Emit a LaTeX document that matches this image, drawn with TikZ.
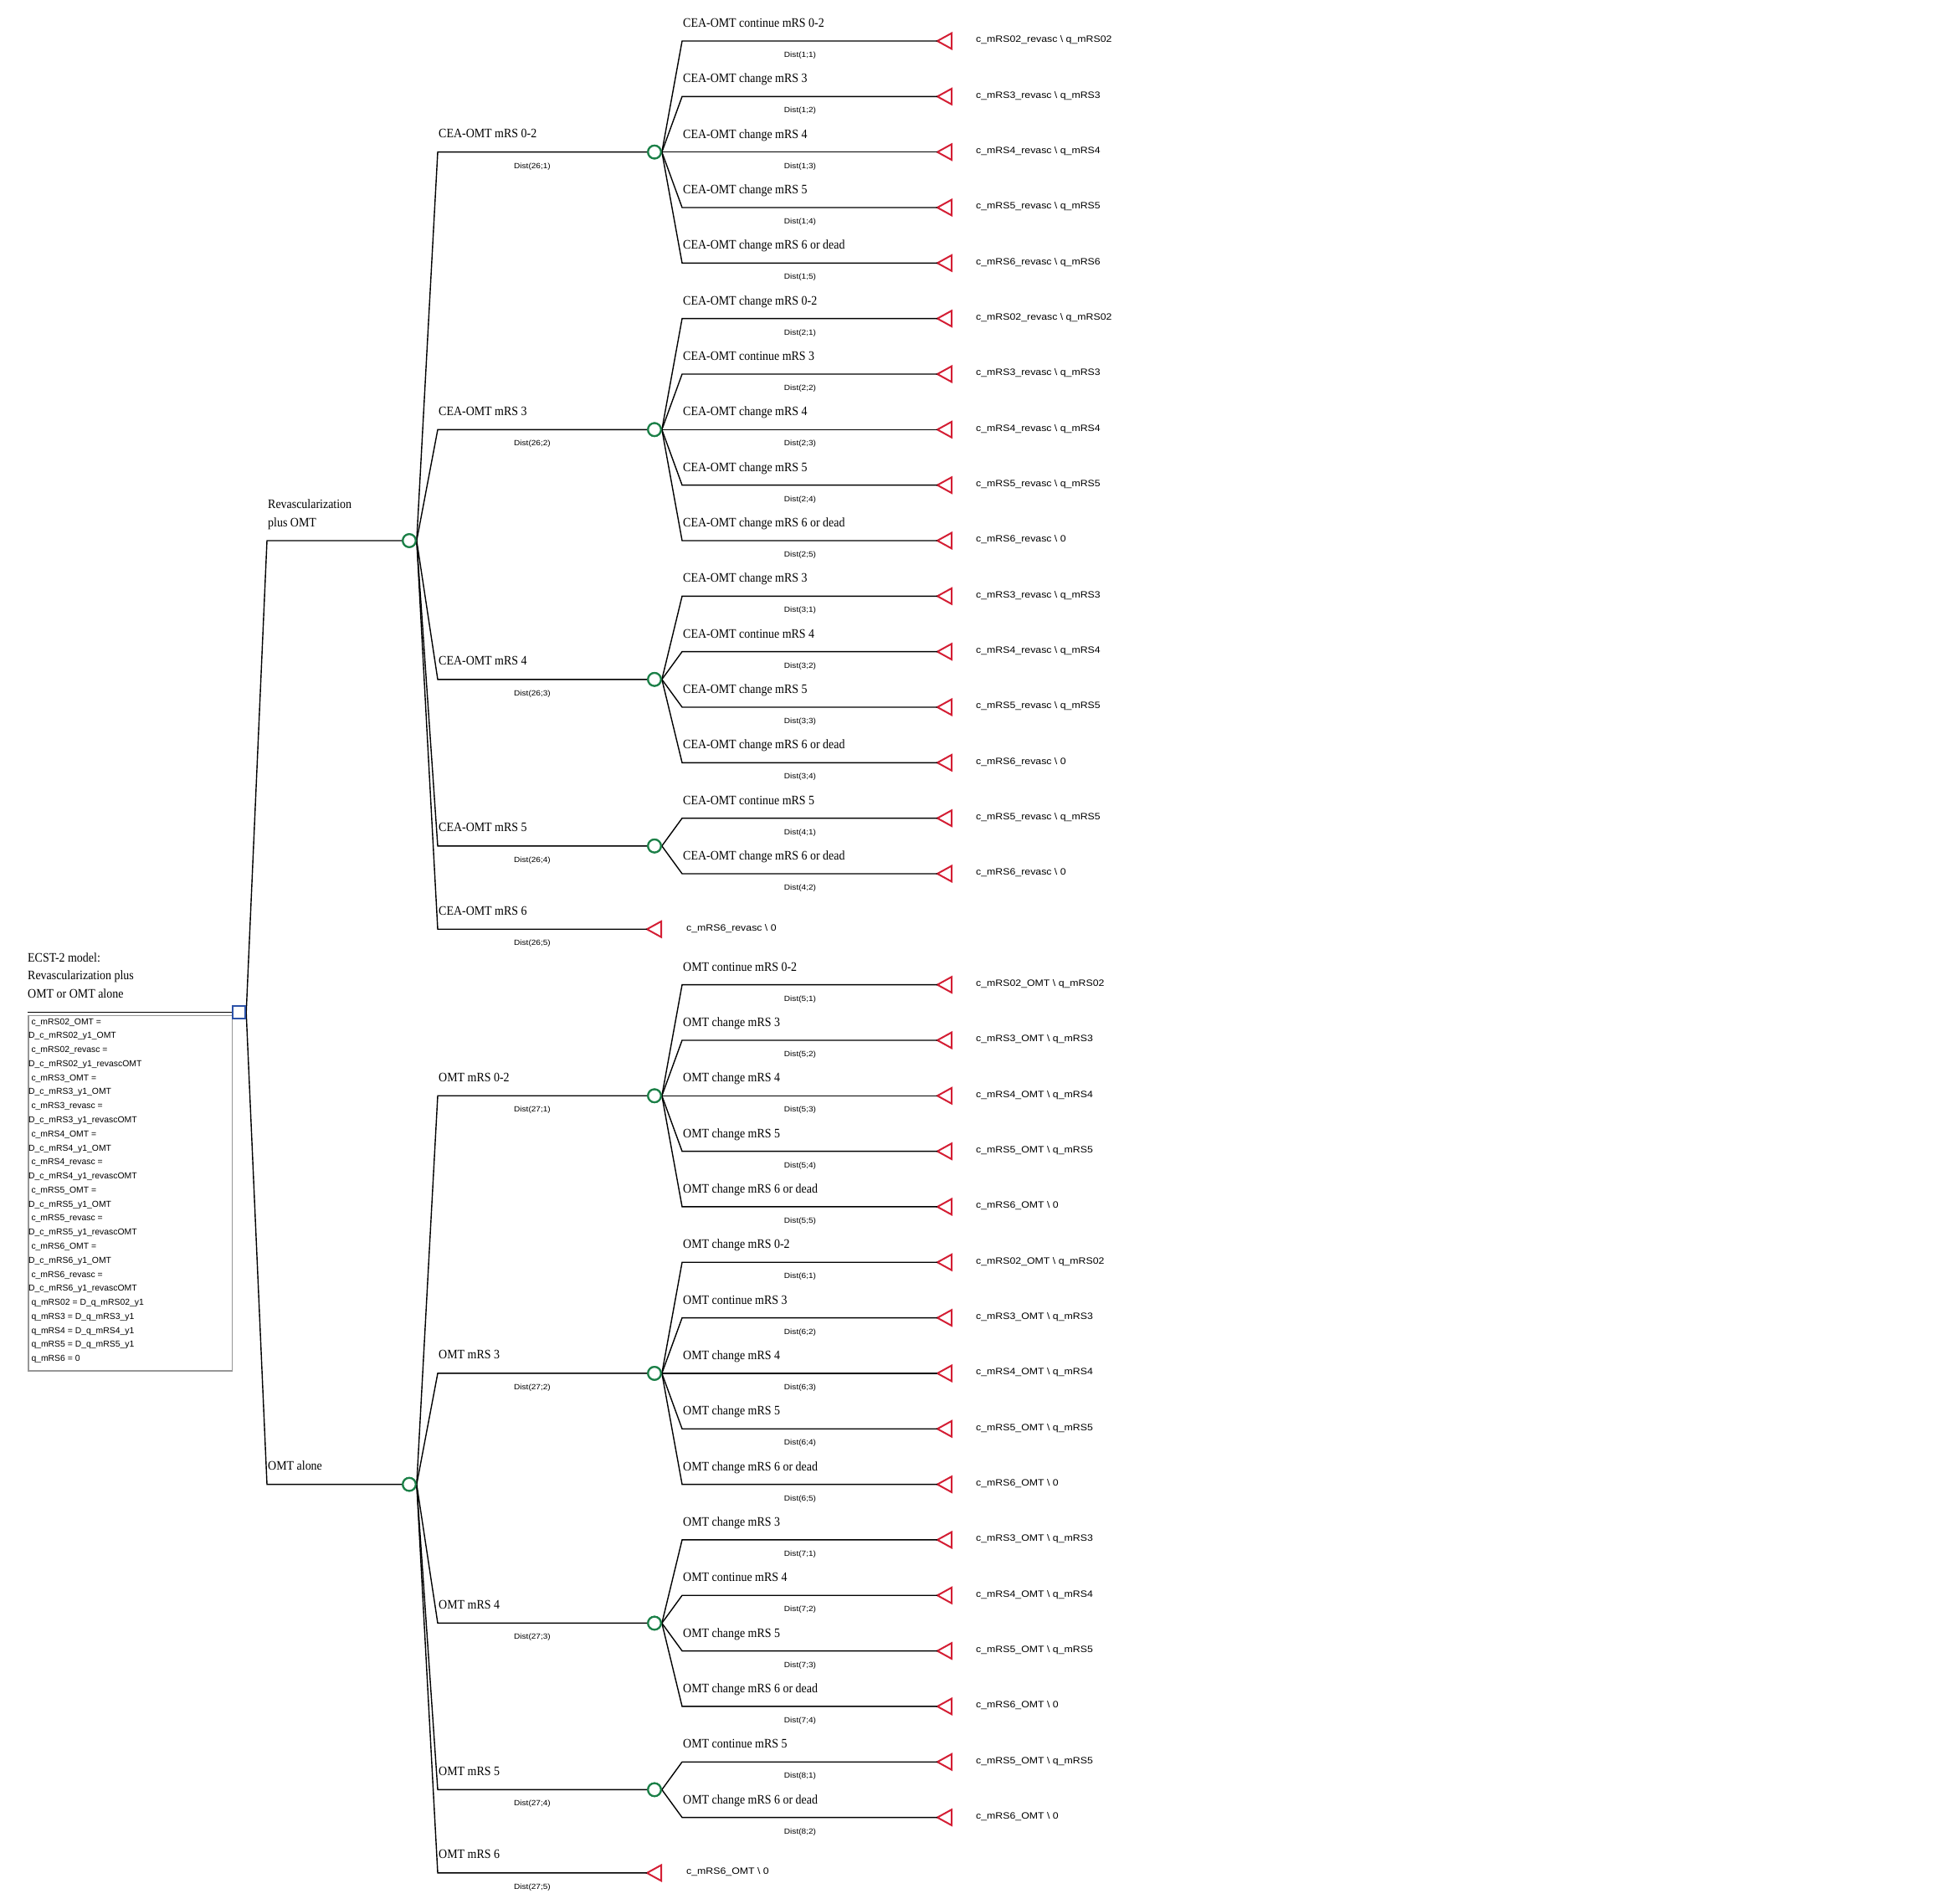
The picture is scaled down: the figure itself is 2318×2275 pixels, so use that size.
\documentclass[tikz,border=0pt]{standalone}
\usepackage{fontspec}
\setmainfont{Liberation Serif}
\newfontfamily\serf[FakeStretch=0.9]{Liberation Serif}
\newfontfamily\sanf{Liberation Sans}
\newfontfamily\sanw[FakeStretch=1.12]{Liberation Sans}
\definecolor{chgreen}{RGB}{28,128,72}
\definecolor{tred}{RGB}{212,30,52}
\definecolor{dblue}{RGB}{44,82,168}
\definecolor{boxgray}{RGB}{150,150,150}
\tikzset{
  br/.style={draw=black,line width=1.4pt},
  chance/.style={circle,draw=chgreen,line width=2.2pt,minimum size=15.5pt,inner sep=0pt,fill=white},
  dec/.style={rectangle,draw=dblue,line width=2pt,minimum size=15pt,inner sep=0pt,fill=white},
  tip/.style={inner sep=0pt,minimum size=0pt,outer sep=0pt},
  tri/.style={draw=tred,line width=2pt,line join=miter},
  nm/.style={font=\serf\fontsize{15.5}{18}\selectfont,anchor=base west,inner sep=0pt},
  pr/.style={font=\sanw\fontsize{9}{11}\selectfont,anchor=base,inner sep=0pt},
  po/.style={font=\sanw\fontsize{11}{13}\selectfont,anchor=base west,inner sep=0pt},
  bx/.style={font=\sanf\fontsize{10.4}{12}\selectfont,anchor=base west,inner sep=0pt}
}
\newcommand\mkleaf[6]{%
  \coordinate (k#2) at (815,#3);
  \node[tip] (t#2) at (1120,#3) {};
  \draw[tri] (t#2.center) -- ++(17,-9.35) -- ++(0,18.7) -- cycle;
  \draw[br] (#1.east) -- (k#2) -- (t#2.center);
  \node[nm] (n#2) at (816,#3-16.5) {#4};
  \node[pr] (p#2) at (956,#3+19.5) {#5};
  \node[po] (v#2) at (1166,#3+2) {#6};
}
\newcommand\mkmid[5]{%
  \coordinate (k#2) at (523,#3);
  \node[chance] (#2) at (782,#3) {};
  \draw[br] (#1.east) -- (k#2) -- (#2.west);
  \node[nm] (n#2) at (524,#3-17) {#4};
  \node[pr] (p#2) at (636,#3+19.5) {#5};
}
\newcommand\mkend[6]{%
  \coordinate (k#2) at (523,#3);
  \node[tip] (t#2) at (773,#3) {};
  \draw[tri] (t#2.center) -- ++(17,-9.35) -- ++(0,18.7) -- cycle;
  \draw[br] (#1.east) -- (k#2) -- (t#2.center);
  \node[nm] (n#2) at (524,#3-17) {#4};
  \node[pr] (p#2) at (636,#3+19.5) {#5};
  \node[po] (v#2) at (820,#3+2) {#6};
}
\newcommand\bsl{ \textbackslash{} }
\begin{document}
\begin{tikzpicture}[x=1pt,y=-1pt]
\fill[white] (0,0) rectangle (2318,2275);
\useasboundingbox (0,0) rectangle (2318,2275);
% root
\node[dec] (root) at (285.7,1209.78) {};
\coordinate (stem) at (33,1209.78);
\draw[br] (stem) -- (root.west);
\node[nm] (title1) at (33,1149.3) {ECST-2 model:};
\node[nm] (title2) at (33,1170.6) {Revascularization plus};
\node[nm] (title3) at (33,1192) {OMT or OMT alone};
\node[draw=boxgray,line width=1.2pt,minimum width=243.4pt,minimum height=424.6pt,inner sep=0pt,anchor=north west] (defbox) at (33.3,1212.7) {};
\foreach \t [count=\i] in {%
 {\hspace{3.3pt}c\_mRS02\_OMT =},
 {D\_c\_mRS02\_y1\_OMT},
 {\hspace{3.3pt}c\_mRS02\_revasc =},
 {D\_c\_mRS02\_y1\_revascOMT},
 {\hspace{3.3pt}c\_mRS3\_OMT =},
 {D\_c\_mRS3\_y1\_OMT},
 {\hspace{3.3pt}c\_mRS3\_revasc =},
 {D\_c\_mRS3\_y1\_revascOMT},
 {\hspace{3.3pt}c\_mRS4\_OMT =},
 {D\_c\_mRS4\_y1\_OMT},
 {\hspace{3.3pt}c\_mRS4\_revasc =},
 {D\_c\_mRS4\_y1\_revascOMT},
 {\hspace{3.3pt}c\_mRS5\_OMT =},
 {D\_c\_mRS5\_y1\_OMT},
 {\hspace{3.3pt}c\_mRS5\_revasc =},
 {D\_c\_mRS5\_y1\_revascOMT},
 {\hspace{3.3pt}c\_mRS6\_OMT =},
 {D\_c\_mRS6\_y1\_OMT},
 {\hspace{3.3pt}c\_mRS6\_revasc =},
 {D\_c\_mRS6\_y1\_revascOMT},
 {\hspace{3.3pt}q\_mRS02 = D\_q\_mRS02\_y1},
 {\hspace{3.3pt}q\_mRS3 = D\_q\_mRS3\_y1},
 {\hspace{3.3pt}q\_mRS4 = D\_q\_mRS4\_y1},
 {\hspace{3.3pt}q\_mRS5 = D\_q\_mRS5\_y1},
 {\hspace{3.3pt}q\_mRS6 = 0}}
 \node[bx] (d\i) at (34,{1224+16.78*(\i-1)}) {\t};
% level 1
\coordinate (kR) at (319,645.97);
\node[chance] (R) at (489,645.97) {};
\draw[br] (root.east) -- (kR) -- (R.west);
\node[nm] (nR1) at (320,607.3) {Revascularization};
\node[nm] (nR2) at (320,629) {plus OMT};
\coordinate (kO) at (319,1773.58);
\node[chance] (O) at (489,1773.58) {};
\draw[br] (root.east) -- (kO) -- (O.west);
\node[nm] (nO) at (320,1756.6) {OMT alone};
% level 2 - revasc
\mkmid{R}{A1}{181.66}{CEA-OMT mRS 0-2}{Dist(26;1)}
\mkmid{R}{A2}{513.31}{CEA-OMT mRS 3}{Dist(26;2)}
\mkmid{R}{A3}{811.80}{CEA-OMT mRS 4}{Dist(26;3)}
\mkmid{R}{A4}{1010.79}{CEA-OMT mRS 5}{Dist(26;4)}
\mkend{R}{A5}{1110.28}{CEA-OMT mRS 6}{Dist(26;5)}{c\_mRS6\_revasc\bsl 0}
% level 2 - OMT
\mkmid{O}{B1}{1309.27}{OMT mRS 0-2}{Dist(27;1)}
\mkmid{O}{B2}{1640.92}{OMT mRS 3}{Dist(27;2)}
\mkmid{O}{B3}{1939.41}{OMT mRS 4}{Dist(27;3)}
\mkmid{O}{B4}{2138.40}{OMT mRS 5}{Dist(27;4)}
\mkend{O}{B5}{2237.89}{OMT mRS 6}{Dist(27;5)}{c\_mRS6\_OMT\bsl 0}
% level 3 - revasc
\mkleaf{A1}{1}{49.00}{CEA-OMT continue mRS 0-2}{Dist(1;1)}{c\_mRS02\_revasc\bsl q\_mRS02}
\mkleaf{A1}{2}{115.33}{CEA-OMT change mRS 3}{Dist(1;2)}{c\_mRS3\_revasc\bsl q\_mRS3}
\mkleaf{A1}{3}{181.66}{CEA-OMT change mRS 4}{Dist(1;3)}{c\_mRS4\_revasc\bsl q\_mRS4}
\mkleaf{A1}{4}{247.99}{CEA-OMT change mRS 5}{Dist(1;4)}{c\_mRS5\_revasc\bsl q\_mRS5}
\mkleaf{A1}{5}{314.32}{CEA-OMT change mRS 6 or dead}{Dist(1;5)}{c\_mRS6\_revasc\bsl q\_mRS6}
\mkleaf{A2}{6}{380.65}{CEA-OMT change mRS 0-2}{Dist(2;1)}{c\_mRS02\_revasc\bsl q\_mRS02}
\mkleaf{A2}{7}{446.98}{CEA-OMT continue mRS 3}{Dist(2;2)}{c\_mRS3\_revasc\bsl q\_mRS3}
\mkleaf{A2}{8}{513.31}{CEA-OMT change mRS 4}{Dist(2;3)}{c\_mRS4\_revasc\bsl q\_mRS4}
\mkleaf{A2}{9}{579.64}{CEA-OMT change mRS 5}{Dist(2;4)}{c\_mRS5\_revasc\bsl q\_mRS5}
\mkleaf{A2}{10}{645.97}{CEA-OMT change mRS 6 or dead}{Dist(2;5)}{c\_mRS6\_revasc\bsl 0}
\mkleaf{A3}{11}{712.30}{CEA-OMT change mRS 3}{Dist(3;1)}{c\_mRS3\_revasc\bsl q\_mRS3}
\mkleaf{A3}{12}{778.63}{CEA-OMT continue mRS 4}{Dist(3;2)}{c\_mRS4\_revasc\bsl q\_mRS4}
\mkleaf{A3}{13}{844.96}{CEA-OMT change mRS 5}{Dist(3;3)}{c\_mRS5\_revasc\bsl q\_mRS5}
\mkleaf{A3}{14}{911.29}{CEA-OMT change mRS 6 or dead}{Dist(3;4)}{c\_mRS6\_revasc\bsl 0}
\mkleaf{A4}{15}{977.62}{CEA-OMT continue mRS 5}{Dist(4;1)}{c\_mRS5\_revasc\bsl q\_mRS5}
\mkleaf{A4}{16}{1043.95}{CEA-OMT change mRS 6 or dead}{Dist(4;2)}{c\_mRS6\_revasc\bsl 0}
% level 3 - OMT
\mkleaf{B1}{18}{1176.61}{OMT continue mRS 0-2}{Dist(5;1)}{c\_mRS02\_OMT\bsl q\_mRS02}
\mkleaf{B1}{19}{1242.94}{OMT change mRS 3}{Dist(5;2)}{c\_mRS3\_OMT\bsl q\_mRS3}
\mkleaf{B1}{20}{1309.27}{OMT change mRS 4}{Dist(5;3)}{c\_mRS4\_OMT\bsl q\_mRS4}
\mkleaf{B1}{21}{1375.60}{OMT change mRS 5}{Dist(5;4)}{c\_mRS5\_OMT\bsl q\_mRS5}
\mkleaf{B1}{22}{1441.93}{OMT change mRS 6 or dead}{Dist(5;5)}{c\_mRS6\_OMT\bsl 0}
\mkleaf{B2}{23}{1508.26}{OMT change mRS 0-2}{Dist(6;1)}{c\_mRS02\_OMT\bsl q\_mRS02}
\mkleaf{B2}{24}{1574.59}{OMT continue mRS 3}{Dist(6;2)}{c\_mRS3\_OMT\bsl q\_mRS3}
\mkleaf{B2}{25}{1640.92}{OMT change mRS 4}{Dist(6;3)}{c\_mRS4\_OMT\bsl q\_mRS4}
\mkleaf{B2}{26}{1707.25}{OMT change mRS 5}{Dist(6;4)}{c\_mRS5\_OMT\bsl q\_mRS5}
\mkleaf{B2}{27}{1773.58}{OMT change mRS 6 or dead}{Dist(6;5)}{c\_mRS6\_OMT\bsl 0}
\mkleaf{B3}{28}{1839.91}{OMT change mRS 3}{Dist(7;1)}{c\_mRS3\_OMT\bsl q\_mRS3}
\mkleaf{B3}{29}{1906.24}{OMT continue mRS 4}{Dist(7;2)}{c\_mRS4\_OMT\bsl q\_mRS4}
\mkleaf{B3}{30}{1972.57}{OMT change mRS 5}{Dist(7;3)}{c\_mRS5\_OMT\bsl q\_mRS5}
\mkleaf{B3}{31}{2038.90}{OMT change mRS 6 or dead}{Dist(7;4)}{c\_mRS6\_OMT\bsl 0}
\mkleaf{B4}{32}{2105.23}{OMT continue mRS 5}{Dist(8;1)}{c\_mRS5\_OMT\bsl q\_mRS5}
\mkleaf{B4}{33}{2171.56}{OMT change mRS 6 or dead}{Dist(8;2)}{c\_mRS6\_OMT\bsl 0}
% redraw nodes on top of connectors
\node[dec] at (root) {};
\foreach \c in {R,O,A1,A2,A3,A4,B1,B2,B3,B4} \node[chance] at (\c) {};
\end{tikzpicture}
\end{document}
